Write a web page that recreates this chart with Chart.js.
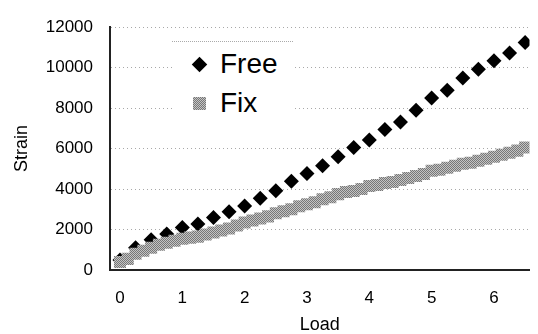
<!DOCTYPE html>
<html>
<head>
<meta charset="utf-8">
<script src="https://cdn.jsdelivr.net/npm/chart.js@4"></script>
<style>
  body { margin: 0; background: #fff; }
  #wrap { position: relative; width: 538px; height: 334px; }
  #legend { position: absolute; left: 172px; top: 41px; width: 121px; height: 84px;
    background: #fff; border-top: 1px dotted #aaa; font-family: "Liberation Sans", Arial, sans-serif; }
  .lbl { position: absolute; left: 48px; font-size: 28px; line-height: 28px; color: #000; }
  .dia { position: absolute; width: 11px; height: 11px; background: #000; transform: rotate(45deg); }
  .sq { position: absolute; width: 13px; height: 13px;
    background: repeating-conic-gradient(#777 0 25%, #c4c4c4 0 50%) 0 0 / 2px 2px; }
</style>
</head>
<body>
<div id="wrap">
  <canvas id="chart" width="538" height="334"></canvas>
  <div id="legend"></div>
</div>
<script>
const seriesNames = ["Free", "Fix"];

const freeLoad = [0, 0.25, 0.5, 0.75, 1, 1.25, 1.5, 1.75, 2, 2.25, 2.5, 2.75, 3, 3.25,
  3.5, 3.75, 4, 4.25, 4.5, 4.75, 5, 5.25, 5.5, 5.75, 6, 6.25, 6.5];
const freeStrain = [500, 1100, 1500, 1780, 2100, 2270, 2600, 2880, 3160, 3540, 3920, 4390, 4770, 5150,
  5600, 6050, 6420, 6940, 7320, 7890, 8500, 8880, 9490, 9920, 10340, 10720, 11240];

const fixLoad = [0, 0.125, 0.25, 0.375, 0.5, 0.625, 0.75, 0.875, 1, 1.125, 1.25, 1.375, 1.5, 1.625,
  1.75, 1.875, 2, 2.125, 2.25, 2.375, 2.5, 2.625, 2.75, 2.875, 3, 3.125, 3.25, 3.375, 3.5, 3.625,
  3.75, 3.875, 4, 4.125, 4.25, 4.375, 4.5, 4.625, 4.75, 4.875, 5, 5.125, 5.25, 5.375, 5.5, 5.625,
  5.75, 5.875, 6, 6.125, 6.25, 6.375, 6.5];
const fixStrain = [400, 550, 800, 950, 1100, 1250, 1350, 1450, 1550, 1600, 1650, 1750, 1850, 1950,
  2050, 2200, 2350, 2450, 2550, 2650, 2800, 2900, 3000, 3150, 3250, 3350, 3500, 3600, 3750, 3850,
  3900, 4000, 4150, 4200, 4300, 4350, 4450, 4550, 4650, 4750, 4900, 4950, 5050, 5150, 5250, 5300,
  5400, 5500, 5600, 5700, 5800, 5900, 6050];

const xTicks = [0, 1, 2, 3, 4, 5, 6];
const yTicks = [0, 2000, 4000, 6000, 8000, 10000, 12000];

// dithered grey like the scanned squares
const pc = document.createElement("canvas");
pc.width = 2; pc.height = 2;
const pctx = pc.getContext("2d");
pctx.fillStyle = "#c4c4c4"; pctx.fillRect(0, 0, 2, 2);
pctx.fillStyle = "#777"; pctx.fillRect(0, 0, 1, 1); pctx.fillRect(1, 1, 1, 1);
const ctx0 = document.getElementById("chart").getContext("2d");
const greyPattern = ctx0.createPattern(pc, "repeat");

const toPoints = (xs, ys) => xs.map((x, i) => ({ x: x, y: ys[i] }));

const font = "'Liberation Sans', Arial, sans-serif";

new Chart(ctx0, {
  type: "scatter",
  data: {
    datasets: [
      {
        label: seriesNames[0],
        data: toPoints(freeLoad, freeStrain),
        pointStyle: "rectRot",
        pointRadius: 7.5,
        pointBackgroundColor: "#000",
        pointBorderWidth: 0,
        order: 1,
      },
      {
        label: seriesNames[1],
        data: toPoints(fixLoad, fixStrain),
        pointStyle: "rect",
        pointRadius: 8.5,
        pointBackgroundColor: greyPattern,
        pointBorderWidth: 0,
        order: 0,
      },
    ],
  },
  options: {
    responsive: false,
    animation: false,
    layout: { padding: { top: 16, left: 0, right: 0, bottom: 0 } },
    plugins: { legend: { display: false }, tooltip: { enabled: false } },
    scales: {
      x: {
        type: "linear",
        min: -0.16,
        max: 6.57,
        afterBuildTicks: (scale) => { scale.ticks = xTicks.map((v) => ({ value: v })); },
        afterFit: (scale) => { scale.height = 64; },
        grid: { display: false, drawTicks: false },
        border: { display: true, color: "#222", width: 2 },
        ticks: { color: "#000", padding: 18, font: { family: font, size: 17 },
          callback: (v) => String(v) },
        title: { display: true, text: "Load", color: "#000", padding: { top: 0, bottom: -2 },
          font: { family: font, size: 18 } },
      },
      y: {
        min: 0,
        max: 12000,
        afterBuildTicks: (scale) => { scale.ticks = yTicks.map((v) => ({ value: v })); },
        afterFit: (scale) => { scale.width = 110; },
        grid: { color: "#a8a8a8", lineWidth: 1, drawTicks: false },
        border: { display: true, color: "#222", width: 2, dash: [1, 3] },
        ticks: { color: "#000", padding: 17, font: { family: font, size: 17 },
          callback: (v) => String(v) },
        title: { display: true, text: "Strain", color: "#000", padding: { top: 11, bottom: 0 },
          font: { family: font, size: 18 } },
      },
    },
  },
});

// legend box inside the plot
const legend = document.getElementById("legend");
legend.innerHTML =
  '<div class="dia" style="left:21.5px;top:16.5px"></div>' +
  '<span class="lbl" style="top:8px">' + seriesNames[0] + '</span>' +
  '<div class="sq" style="left:20.5px;top:54.5px"></div>' +
  '<span class="lbl" style="top:47px">' + seriesNames[1] + '</span>';
</script>
</body>
</html>
